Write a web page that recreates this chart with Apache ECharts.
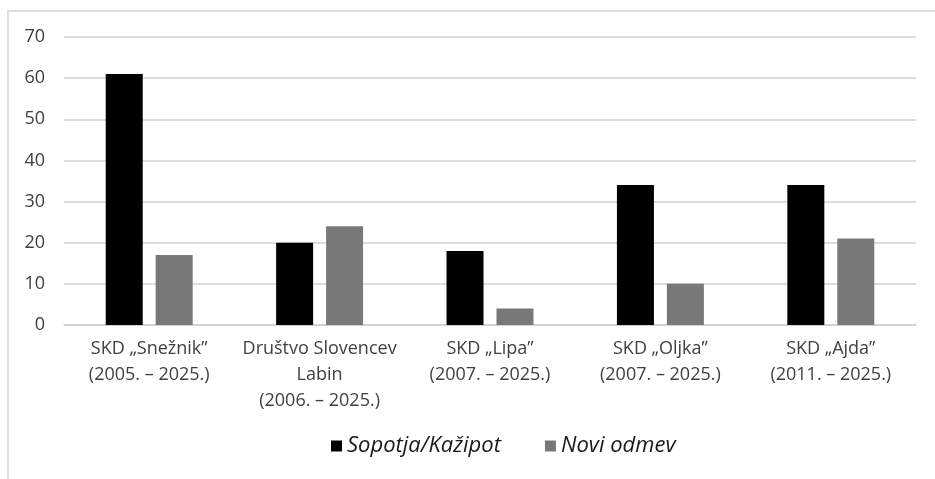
<!DOCTYPE html>
<html>
<head>
<meta charset="utf-8">
<script src="https://cdn.jsdelivr.net/npm/echarts@6/dist/echarts.min.js"></script>
<style>
html,body{margin:0;padding:0;background:#fff;}
#c{width:935px;height:479px;}
</style>
</head>
<body>
<div id="c"></div>
<script>
const categories = [
  'SKD „Snežnik”\n(2005. – 2025.)',
  'Društvo Slovencev\nLabin\n(2006. – 2025.)',
  'SKD „Lipa”\n(2007. – 2025.)',
  'SKD „Oljka”\n(2007. – 2025.)',
  'SKD „Ajda”\n(2011. – 2025.)'
];
const sopotja = [61, 20, 18, 34, 34];
const noviOdmev = [17, 24, 4, 10, 21];
const yTicks = [0, 10, 20, 30, 40, 50, 60, 70];

const chart = echarts.init(document.getElementById('c'), null, {renderer: 'canvas'});
const font = '"Open Sans", "Noto Sans", sans-serif';
chart.setOption({
  animation: false,
  textStyle: {fontFamily: font},
  graphic: [{
    type: 'rect',
    shape: {x: 8, y: 11, width: 1000, height: 600},
    style: {fill: 'none', stroke: '#d4d4d4', lineWidth: 1.5},
    silent: true
  }],
  grid: {left: 64, right: 19, top: 37, bottom: 154},
  legend: {
    bottom: 17,
    left: 326,
    itemWidth: 11,
    itemHeight: 11,
    itemGap: 44,
    icon: 'rect',
    textStyle: {fontFamily: font, fontStyle: 'italic', fontSize: 22, color: '#1a1a1a'},
    data: ['Sopotja/Kažipot', 'Novi odmev']
  },
  xAxis: {
    type: 'category',
    data: categories,
    axisLine: {show: true, lineStyle: {color: '#d0d0d0', width: 1.5}},
    axisTick: {show: false},
    axisLabel: {fontFamily: font, fontSize: 18, color: '#404040', lineHeight: 26, margin: 11, interval: 0}
  },
  yAxis: {
    type: 'value',
    min: yTicks[0],
    max: yTicks[yTicks.length - 1],
    interval: 10,
    axisLine: {show: false},
    axisTick: {show: false},
    splitLine: {lineStyle: {color: '#d0d0d0', width: 1.5}},
    axisLabel: {fontFamily: font, fontSize: 18, color: '#404040', margin: 19}
  },
  series: [
    {name: 'Sopotja/Kažipot', type: 'bar', data: sopotja, barWidth: 37, barGap: '35%',
     itemStyle: {color: '#000000'}},
    {name: 'Novi odmev', type: 'bar', data: noviOdmev, barWidth: 37,
     itemStyle: {color: '#787878'}}
  ]
});
</script>
</body>
</html>
